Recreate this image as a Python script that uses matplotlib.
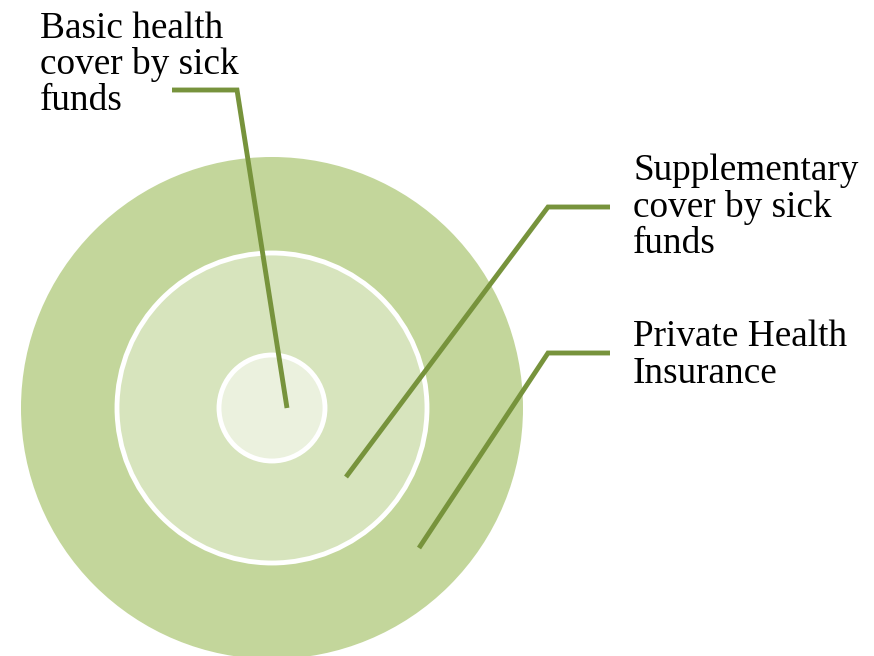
import matplotlib
matplotlib.use("Agg")
import matplotlib.pyplot as plt
from matplotlib.patches import Circle

# Layers of health coverage, innermost first
layers = ["Basic health\ncover by sick\nfunds",
          "Supplementary\ncover by sick\nfunds",
          "Private Health\nInsurance"]
ring_radii = [53, 155, 251]
ring_colors = ["#EBF1DE", "#D7E4BD", "#C3D69B"]
line_color = "#77933C"

fig = plt.figure(figsize=(8.74, 6.56), dpi=100)
ax = fig.add_axes([0, 0, 1, 1])
ax.set_xlim(0, 874)
ax.set_ylim(656, 0)
ax.set_aspect("equal")
ax.axis("off")

cx, cy = 272, 408
# outer rings first so inner ones sit on top
for r, c, ec in zip(ring_radii[::-1], ring_colors[::-1], ["none", "white", "white"]):
    ax.add_patch(Circle((cx, cy), r, facecolor=c, edgecolor=ec, lw=3.5, zorder=1))

# leader lines: anchor inside ring -> elbow -> label end
leaders = [
    [(287, 408), (237, 90), (172, 90)],
    [(346, 477), (548, 207), (610, 207)],
    [(419, 548), (548, 353), (610, 353)],
]
for pts in leaders:
    xs, ys = zip(*pts)
    ax.plot(xs, ys, color=line_color, lw=3.5, solid_capstyle="butt",
            solid_joinstyle="miter", zorder=3)

label_pos = [(40, 11), (633, 154), (633, 320)]
for text, (x, y) in zip(layers, label_pos):
    ax.text(x, y, text, family="Liberation Serif", fontsize=26.8,
            va="top", ha="left", linespacing=1.06, color="black", zorder=4)

fig.savefig("out.png", dpi=100)
